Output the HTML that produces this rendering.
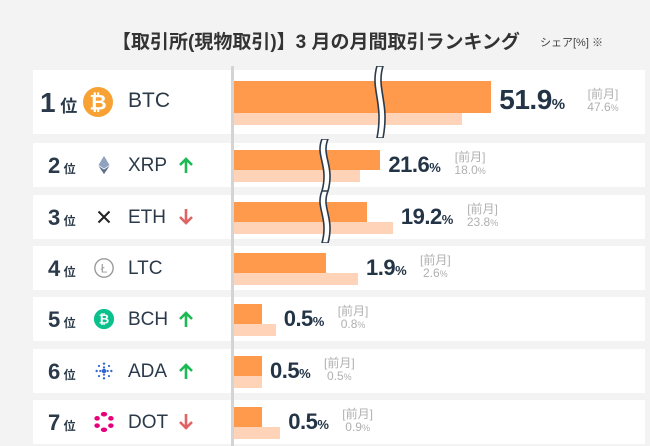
<!DOCTYPE html>
<html><head><meta charset="utf-8"><style>
body{margin:0;width:650px;height:446px;background:#f3f3f3;overflow:hidden;font-family:"Liberation Sans","Noto Sans CJK JP",sans-serif;position:relative}
.a{position:absolute}
#title{left:112px;top:27px;font-size:19px;font-weight:bold;color:#333;white-space:nowrap}
#unit{left:540px;top:34px;font-size:11px;color:#444;white-space:nowrap}
</style></head><body>
<div class="a" id="title">【取引所(現物取引)】3 月の月間取引ランキング</div>
<div class="a" id="unit">シェア[%] ※</div>
<div class="a" style="left:231px;top:66px;width:3px;height:380px;background:#d4d4d4"></div>
<div id="rows"></div>
<script>
const symbols=["BTC","XRP","ETH","LTC","BCH","ADA","DOT"];
const current=[51.9,21.6,19.2,1.9,0.5,0.5,0.5];
const previous=[47.6,18.0,23.8,2.6,0.8,0.5,0.9];
const trend=["","up","down","","up","up","down"];
const broken=[true,true,true,false,false,false,false];
// piecewise scale with axis break
const dom=[0,0.5,2.6,18,24,48,52];
const rng=[0,28,124,126,160,229,258];
function x(v){for(let i=1;i<dom.length;i++){if(v<=dom[i]){const t=(v-dom[i-1])/(dom[i]-dom[i-1]);return rng[i-1]+t*(rng[i]-rng[i-1]);}}return rng[rng.length-1];}
const tops=[70,143,195,246,297,349,400];
const icons={
BTC:'<circle cx="12" cy="12" r="12" fill="#f7a233"/><text x="12" y="18" text-anchor="middle" font-size="17" font-weight="bold" fill="#fff" font-family="Liberation Sans">₿</text>',
XRP:'<polygon points="12,2 18,12 12,16 6,12" fill="#8fa3bf"/><polygon points="12,17 18,13 12,22 6,13" fill="#5b6f8c"/>',
ETH:'<path d="M6 6 L18 18 M18 6 L6 18" stroke="#222" stroke-width="2.2"/>',
LTC:'<circle cx="12" cy="12" r="10" fill="none" stroke="#999" stroke-width="1.5"/><text x="12" y="17" text-anchor="middle" font-size="13" fill="#999" font-family="Liberation Sans">Ł</text>',
BCH:'<circle cx="12" cy="12" r="11" fill="#0ac18e"/><text x="12" y="17" text-anchor="middle" font-size="14" font-weight="bold" fill="#fff" font-family="Liberation Sans">₿</text>',
ADA:'<g fill="#3468d1"><circle cx="12" cy="12" r="2.5"/><circle cx="12" cy="4" r="1.3"/><circle cx="12" cy="20" r="1.3"/><circle cx="4" cy="12" r="1.3"/><circle cx="20" cy="12" r="1.3"/><circle cx="6.5" cy="6.5" r="1.2"/><circle cx="17.5" cy="6.5" r="1.2"/><circle cx="6.5" cy="17.5" r="1.2"/><circle cx="17.5" cy="17.5" r="1.2"/><circle cx="12" cy="8" r="1.2"/><circle cx="12" cy="16" r="1.2"/><circle cx="8" cy="12" r="1.2"/><circle cx="16" cy="12" r="1.2"/></g>',
DOT:'<g fill="#e6007a"><ellipse cx="12" cy="3.5" rx="3.5" ry="2.5"/><ellipse cx="12" cy="20.5" rx="3.5" ry="2.5"/><ellipse cx="4.5" cy="8" rx="3" ry="2.5"/><ellipse cx="19.5" cy="8" rx="3" ry="2.5"/><ellipse cx="4.5" cy="16" rx="3" ry="2.5"/><ellipse cx="19.5" cy="16" rx="3" ry="2.5"/></g>'
};
const root=document.getElementById('rows');
symbols.forEach((s,i)=>{
  const big=i===0,top=tops[i],h=big?64:44,x0=234;
  const card=document.createElement('div');card.className='a';
  
  
  card.style.cssText=`left:0;top:0;`;
  let html='';
  html+=`<div class="a" style="left:33px;top:${top}px;width:198px;height:${h}px;background:#fff"></div>`;
  html+=`<div class="a" style="left:234px;top:${top}px;width:411px;height:${h}px;background:#fff"></div>`;
  html+=`<div class="a" style="left:${big?40:48}px;top:${top+(big?17:10)}px;font-weight:bold;color:#2b3a4a;white-space:nowrap"><span style="font-size:${big?28:22}px">${i+1}</span><span style="font-size:${big?17:12}px"> 位</span></div>`;
  const isz=big?30:22;
  html+=`<svg class="a" style="left:${big?83:93}px;top:${top+(h-isz)/2}px" width="${isz}" height="${isz}" viewBox="0 0 24 24">${icons[s]}</svg>`;
  html+=`<div class="a" style="left:128px;top:${top+(big?19:12)}px;font-size:${big?21:19}px;color:#2b3a4a">${s}</div>`;
  if(trend[i]){const c=trend[i]=='up'?'#1db954':'#e06464';const d=trend[i]=='up'?'M9 17 V3 M3 9 L9 3 L15 9':'M9 1 V15 M3 9 L9 15 L15 9';
    html+=`<svg class="a" style="left:177px;top:${top+13}px" width="18" height="18" viewBox="0 0 18 18"><path d="${d}" fill="none" stroke="${c}" stroke-width="2.6"/></svg>`;}
  const cw=x(current[i]),pw=x(previous[i]);
  const ch=big?32:20,ph=12,ct=top+(big?11:7);
  html+=`<div class="a" style="left:${x0}px;top:${ct}px;width:${cw}px;height:${ch}px;background:#ff9a4d"></div>`;
  html+=`<div class="a" style="left:${x0}px;top:${ct+ch}px;width:${pw}px;height:${ph}px;background:#ffd3b7"></div>`;
  if(broken[i]){
    const bx=big?380:325;
    html+=`<svg class="a" style="left:${bx-8}px;top:${top-4}px" width="18" height="${h+8}" viewBox="0 0 18 ${h+8}"><path d="M5 0 C-2 ${(h+8)*0.33},12 ${(h+8)*0.5},5 ${h+8} L11 ${h+8} C18 ${(h+8)*0.5},4 ${(h+8)*0.33},11 0 Z" fill="#fff" stroke="#2b3a4a" stroke-width="1.6"/></svg>`;
  }
  const lx=x0+Math.max(cw,pw)+8;
  html+=`<div class="a" style="left:${lx}px;top:${top+(big?14:9)}px;color:#243447;font-weight:bold;white-space:nowrap;letter-spacing:-0.5px"><span style="font-size:${big?28:22}px">${current[i].toFixed(1)}</span><span style="font-size:${big?15:13}px">%</span></div>`;
  const px=lx+(big?88:(current[i]>=10?66:54));
  html+=`<div class="a" style="left:${px}px;top:${top+(big?18:8)}px;color:#b0b0b0;font-size:12px;line-height:13px;text-align:center;white-space:nowrap">[前月]<br>${previous[i].toFixed(1)}<span style="font-size:9px">%</span></div>`;
  card.innerHTML=html;root.appendChild(card);
});
</script>
</body></html>
